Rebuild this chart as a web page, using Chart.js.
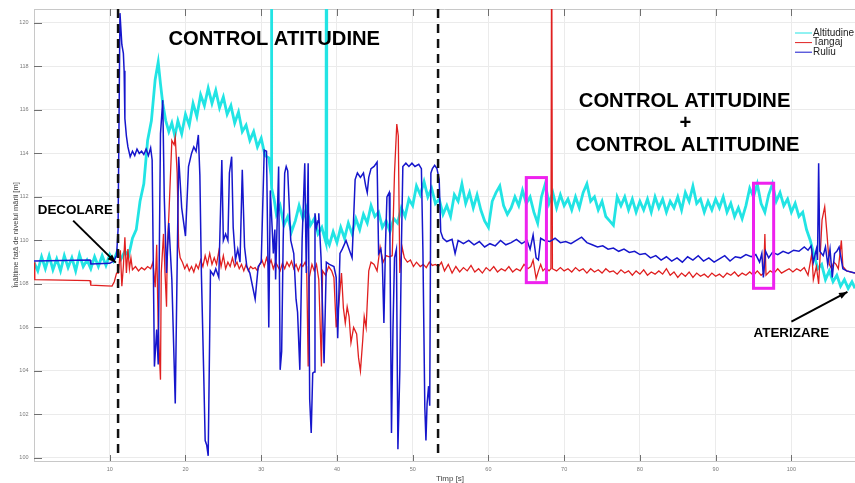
<!DOCTYPE html>
<html>
<head>
<meta charset="utf-8">
<title>Altitudine, Tangaj, Ruliu</title>
<script src="https://cdn.jsdelivr.net/npm/chart.js@4.4.1/dist/chart.umd.min.js"></script>
<style>
  html, body { margin: 0; padding: 0; background: #fff; }
</style>
</head>
<body>
<canvas id="flightChart" width="855" height="483"></canvas>
<script>
// Axis ticks
const xTicks = [10, 20, 30, 40, 50, 60, 70, 80, 90, 100];
const yTicks = [100, 102, 104, 106, 108, 110, 112, 114, 116, 118, 120];

// Altitudine (cyan)
const altTime = [
  0, 0.5, 1, 1.5, 2, 2.5, 3, 3.5, 4, 4.5,
  5, 5.5, 6, 6.5, 7, 7.5, 8, 8.5, 9, 9.5,
  10, 10.5, 11, 11.5, 12, 12.5, 13, 13.5, 14, 14.5,
  15, 15.5, 16, 16.4, 16.7, 17, 17.4, 17.8, 18.2, 18.6,
  19, 19.5, 20, 20.5, 21, 21.5, 22, 22.5, 23, 23.5,
  24, 24.5, 25, 25.5, 26, 26.5, 27, 27.5, 28, 28.5,
  29, 29.5, 30, 30.5, 31, 31.3, 31.35, 31.4, 31.7, 32,
  32.5, 33, 33.5, 34, 34.5, 35, 35.5, 36, 36.5, 37,
  37.5, 38, 38.55, 38.6, 38.65, 39, 39.5, 40, 40.5, 41,
  41.5, 42, 42.5, 43, 43.5, 44, 44.5, 45, 45.5, 46,
  46.5, 47, 47.5, 48, 48.5, 49, 49.5, 50, 50.5, 51,
  51.5, 52, 52.5, 53, 53.5, 54, 54.5, 55, 55.5, 56,
  56.5, 57, 57.5, 58, 58.5, 59, 59.5, 60, 60.5, 61,
  61.5, 62, 62.5, 63, 63.5, 64, 64.5, 65, 65.5, 66,
  66.5, 67, 67.5, 68, 68.5, 69, 69.5, 70, 70.5, 71,
  71.5, 72, 72.5, 73, 73.5, 74, 74.5, 75, 75.5, 76,
  76.5, 77, 77.5, 78, 78.5, 79, 79.5, 80, 80.5, 81,
  81.5, 82, 82.5, 83, 83.5, 84, 84.5, 85, 85.5, 86,
  86.5, 87, 87.5, 88, 88.5, 89, 89.5, 90, 90.5, 91,
  91.5, 92, 92.5, 93, 93.5, 94, 94.5, 95, 95.5, 96,
  96.5, 97, 97.5, 98, 98.5, 99, 99.5, 100, 100.5, 101,
  101.5, 102, 102.5, 103, 103.5, 104, 104.5, 105, 105.5, 106,
  106.5, 107, 107.5, 108, 108.4
];
const altValue = [
  109.0, 108.6, 109.25, 108.7, 109.3, 108.65, 109.15, 108.6, 109.3, 108.75,
  109.2, 108.6, 109.35, 108.8, 109.1, 108.7, 109.25, 108.8, 109.3, 108.85,
  109.35, 109.05, 109.5, 109.15, 109.5, 109.3, 110.1, 110.5, 111.8, 112.6,
  114.6, 115.5, 117.4, 118.2, 117.2, 116.3, 115.5, 115.0, 115.4, 114.8,
  115.5, 114.9, 115.8, 115.3, 116.3, 115.7, 116.7, 116.2, 117.0, 116.3,
  116.9, 116.1, 116.6, 115.8, 116.2, 115.4, 115.9, 115.0, 115.3, 114.6,
  115.0, 114.3, 114.7, 113.9, 113.8, 113.0, 125, 112.4, 111.9, 111.2,
  111.6, 110.7, 111.1, 110.4, 110.9, 111.6, 111.0, 111.5, 110.7, 111.0,
  110.3, 110.6, 109.9, 125, 110.1, 109.8, 110.4, 109.9, 110.6, 110.1,
  110.8, 110.3, 111.0, 110.5, 111.2, 110.8, 111.6, 111.1, 111.3, 110.6,
  110.9, 110.4, 111.0, 110.8, 111.5, 111.1, 111.9, 111.6, 112.5, 112.1,
  112.7, 112.0, 112.4, 111.7, 111.9, 111.2, 111.6, 111.1, 112.1, 111.8,
  112.6, 111.7, 112.2, 111.5, 112.1, 111.4, 110.9, 110.6, 111.8, 112.2,
  112.5, 111.6, 111.2, 111.5, 112.0, 111.6, 112.3, 111.7, 112.0, 111.3,
  110.8, 112.0, 112.6, 111.7, 112.2, 111.5, 112.1, 111.6, 111.9, 111.4,
  112.0, 111.5, 112.2, 112.6, 111.8, 112.0, 111.4, 111.8, 111.1, 110.9,
  110.7, 112.0, 111.6, 112.0, 111.4, 111.9, 111.3, 111.8, 111.4, 111.9,
  111.3, 112.0, 111.5, 111.9, 111.3, 111.8, 111.5, 112.0, 111.4, 112.2,
  111.8, 112.5, 111.7, 111.9, 111.3, 111.8, 111.4, 111.9, 111.5, 112.0,
  111.3, 111.7, 111.1, 111.5, 111.0, 111.6, 112.4, 112.0, 112.6, 111.7,
  111.3, 112.1, 112.6, 111.8, 112.2, 111.6, 111.9, 111.3, 111.7, 111.1,
  111.3, 110.5, 110.0, 109.3, 108.7, 108.9, 108.2, 108.6, 108.1, 108.4,
  107.9, 108.2, 107.8, 108.1, 107.8
];

// Tangaj (red)
const pitchTime = [
  0, 0.1, 7.4, 7.5, 10.3, 10.6, 10.9, 11.15, 11.4, 11.6,
  11.8, 12.0, 12.2, 12.4, 12.6, 12.8, 13.0, 13.4, 13.8, 14.2,
  14.6, 15.0, 15.4, 15.7, 16.0, 16.2, 16.4, 16.7, 16.8, 17.1,
  17.3, 17.5, 17.6, 17.8, 18.2, 18.5, 18.65, 18.9, 19.1, 19.3,
  19.6, 19.9, 20.2, 20.5, 20.8, 21.1, 21.4, 21.7, 22.0, 22.3,
  22.6, 22.9, 23.2, 23.5, 23.8, 24.1, 24.4, 24.7, 25.0, 25.3,
  25.6, 25.9, 26.2, 26.5, 26.8, 27.1, 27.4, 27.7, 28.0, 28.3,
  28.6, 28.9, 29.2, 29.5, 29.8, 30.1, 30.4, 30.7, 31.0, 31.3,
  31.6, 31.9, 32.2, 32.5, 32.8, 33.1, 33.4, 33.7, 34.0, 34.3,
  34.6, 34.9, 35.2, 35.5, 35.8, 36.0, 36.2, 36.35, 36.7, 37.0,
  37.3, 37.6, 37.95, 38.1, 38.5, 38.9, 39.3, 39.6, 39.9, 40.1,
  40.3, 40.6, 40.85, 41.1, 41.35, 41.6, 41.85, 42.2, 42.6, 42.85,
  43.1, 43.4, 43.6, 43.85, 44.2, 44.5, 44.9, 45.3, 45.7, 46.1,
  46.5, 46.9, 47.3, 47.6, 47.9, 48.1, 48.3, 48.6, 48.9, 49.3,
  49.7, 50.1, 50.5, 51.0, 51.4, 51.8, 52.2, 52.6, 53.0, 53.4,
  53.8, 54.2, 54.7, 55.2, 55.7, 56.2, 56.7, 57.2, 57.7, 58.2,
  58.7, 59.2, 59.7, 60.2, 60.7, 61.2, 61.7, 62.2, 62.7, 63.2,
  63.7, 64.2, 64.7, 65.2, 65.6, 65.9, 66.3, 66.6, 66.9, 67.2,
  67.6, 68.0, 68.25, 68.35, 68.45, 69.0, 69.5, 70.0, 70.5, 71.0,
  71.5, 72.0, 72.5, 73.0, 73.5, 74.0, 74.5, 75.0, 75.5, 76.0,
  76.5, 77.0, 77.5, 78.0, 78.5, 79.0, 79.5, 80.0, 80.5, 81.0,
  81.5, 82.0, 82.5, 83.0, 83.5, 84.0, 84.5, 85.0, 85.5, 86.0,
  86.5, 87.0, 87.5, 88.0, 88.5, 89.0, 89.5, 90.0, 90.5, 91.0,
  91.5, 92.0, 92.5, 93.0, 93.5, 94.0, 94.5, 95.0, 95.5, 96.0,
  96.35, 96.5, 96.65, 97.2, 97.7, 98.2, 98.7, 99.2, 99.7, 100.2,
  100.7, 101.2, 101.7, 102.2, 102.7, 102.9, 103.3, 103.6, 104.05, 104.4,
  104.7, 105.0, 105.3, 105.6, 105.9, 106.2, 106.6, 106.8, 107.3, 108.4
];
const pitchValue = [
  109.0, 108.2, 108.15, 107.95, 107.9, 108.1, 108.5, 108.5, 109.55, 107.9,
  108.8, 110.15, 108.5, 109.6, 108.7, 109.2, 108.65, 108.8, 108.6, 108.75,
  108.65, 108.8, 108.7, 109.0, 107.85, 109.8, 106.0, 103.6, 108.5, 110.3,
  108.5, 106.95, 109.7, 111.1, 114.6, 114.4, 114.75, 113.1, 109.7, 109.2,
  109.0, 108.7, 108.9, 108.6, 108.8, 108.55, 108.9, 108.7, 109.1, 108.8,
  109.3, 108.9, 109.4, 108.9, 109.2, 108.9, 109.5, 108.8, 109.3, 108.7,
  109.0, 108.8, 109.2, 108.8, 109.0, 108.7, 108.9, 108.6, 108.9, 108.6,
  108.8, 108.7, 108.75, 108.6, 108.9, 109.1, 108.8, 109.2, 108.85, 109.1,
  108.7, 109.0, 108.8, 108.6, 108.95, 108.7, 109.0, 108.8, 109.05, 108.7,
  108.9, 108.6, 108.9, 108.8, 109.0, 108.8, 104.2, 108.3, 108.9, 108.6,
  108.9, 108.2, 104.2, 108.6, 108.4, 108.8, 108.6, 108.3, 106.0, 106.5,
  107.3, 108.5, 106.9, 106.2, 106.95, 106.5, 105.3, 106.0, 105.7, 104.6,
  104.0, 105.4, 106.5, 106.0, 108.6, 109.0, 108.9, 108.6, 109.7, 109.0,
  109.3, 109.25, 109.3, 113.1, 115.35, 114.8, 108.5, 109.7, 109.2, 109.0,
  109.1, 108.8, 109.0, 108.8, 108.9, 108.75, 109.0, 108.85, 108.9, 108.8,
  109.0, 108.6, 108.9, 108.5, 108.8, 108.55, 108.75, 108.6, 108.85, 108.55,
  108.7, 108.5, 108.75, 108.6, 108.8, 108.55, 108.7, 108.6, 108.8, 108.55,
  108.7, 108.6, 108.9, 108.7, 108.8, 109.1, 108.25, 108.6, 108.9, 108.6,
  108.75, 108.6, 108.7, 125, 108.7, 108.6, 108.75, 108.6, 108.7, 108.55,
  108.75, 108.6, 108.7, 108.5, 108.7, 108.55, 108.65, 108.5, 108.7, 108.55,
  108.6, 108.45, 108.65, 108.5, 108.6, 108.4, 108.6, 108.45, 108.65, 108.4,
  108.55, 108.45, 108.6, 108.45, 108.7, 108.4, 108.55, 108.3, 108.5, 108.35,
  108.55, 108.3, 108.5, 108.35, 108.45, 108.3, 108.5, 108.35, 108.45, 108.3,
  108.5, 108.4, 108.55, 108.35, 108.5, 108.4, 108.55, 108.4, 108.6, 108.4,
  108.5, 110.3, 108.4, 108.6, 108.5, 108.7, 108.5, 108.6, 108.7, 108.55,
  108.7, 108.6, 108.75, 108.4, 109.4, 108.2, 108.8, 108.0, 110.95, 111.55,
  110.3, 108.9, 108.7, 109.0, 108.9, 108.7, 110.0, 108.8, 108.6, 108.5
];

// Ruliu (blue)
const rollTime = [
  0, 7.4, 7.5, 10.0, 10.5, 10.9, 11.1, 11.35, 11.6, 11.8,
  11.9, 12.0, 12.2, 12.4, 12.7, 13.0, 13.3, 13.6, 13.9, 14.2,
  14.5, 14.8, 15.1, 15.4, 15.6, 15.9, 16.2, 16.4, 16.7, 17.0,
  17.2, 17.5, 17.8, 18.2, 18.65, 19.1, 19.5, 20.0, 20.4, 20.8,
  21.1, 21.4, 21.7, 21.9, 22.1, 22.4, 22.6, 22.8, 23.0, 23.3,
  23.7, 24.0, 24.4, 24.8, 25.0, 25.3, 25.6, 25.8, 26.1, 26.3,
  26.6, 26.9, 27.2, 27.5, 27.8, 28.1, 28.5, 29.2, 29.6, 30.0,
  30.4, 30.7, 31.0, 31.2, 31.4, 31.6, 31.8, 31.9, 32.3, 32.5,
  32.7, 32.9, 33.1, 33.3, 33.5, 33.9, 34.3, 34.6, 34.8, 35.1,
  35.4, 35.75, 35.95, 36.2, 36.4, 36.6, 36.8, 37.0, 37.1, 37.3,
  37.5, 37.6, 37.9, 38.3, 38.6, 39.0, 39.6, 39.9, 40.1, 40.4,
  40.7, 41.2, 41.6, 42.0, 42.4, 42.7, 43.1, 43.5, 43.8, 44.0,
  44.2, 44.5, 44.9, 45.3, 45.5, 45.8, 46.0, 46.2, 46.4, 46.6,
  46.9, 47.0, 47.2, 47.4, 47.6, 47.85, 48.05, 48.3, 48.5, 48.7,
  49.1, 49.5, 49.9, 50.3, 50.8, 51.15, 51.35, 51.6, 51.75, 51.9,
  52.1, 52.25, 52.4, 52.6, 52.9, 53.2, 53.5, 53.7, 54.0, 54.5,
  55.2, 55.6, 56.0, 56.7, 57.4, 58.1, 58.8, 59.5, 60.2, 60.9,
  61.6, 62.3, 63.0, 63.7, 64.4, 65.1, 65.5, 65.9, 66.3, 66.6,
  66.9, 67.4, 68.1, 68.8, 69.5, 70.2, 70.9, 71.6, 72.3, 73.0,
  73.7, 74.4, 75.1, 75.8, 76.5, 77.2, 77.9, 78.6, 79.3, 80.0,
  80.7, 81.4, 82.1, 82.8, 83.5, 84.2, 84.9, 85.6, 86.3, 87.0,
  87.7, 88.4, 89.1, 89.8, 90.5, 91.2, 91.9, 92.6, 93.3, 94.0,
  94.7, 95.3, 95.8, 96.1, 96.3, 96.6, 97.0, 97.5, 98.2, 98.9,
  99.6, 100.3, 101.0, 101.7, 102.2, 102.6, 102.9, 103.3, 103.45, 103.6,
  103.75, 104.2, 104.5, 104.8, 105.1, 105.4, 105.7, 106.0, 106.3, 106.5,
  106.8, 107.3, 108.4
];
const rollValue = [
  109.05, 109.1, 108.92, 108.95, 109.05, 109.3, 110.5, 120.45, 119.0, 118.6,
  117.8, 115.6, 114.8, 114.3, 113.85, 114.1, 113.9, 114.2, 114.0, 114.1,
  113.95, 114.2, 113.9, 114.25, 113.7, 104.2, 105.9, 104.3, 114.9, 116.45,
  112.0, 108.5, 110.8, 108.2, 102.5, 113.85, 111.5, 110.2, 113.4, 114.0,
  114.3, 114.1, 114.85, 113.0, 108.5, 104.0, 100.8, 100.6, 100.1, 108.6,
  108.4, 108.7, 108.3, 113.7, 110.0, 110.3, 110.0, 113.1, 113.85, 110.6,
  109.1, 109.6, 109.0, 113.25, 109.7, 108.8, 108.5, 107.3, 108.8, 109.0,
  114.15, 114.1, 106.0, 112.3, 110.9, 109.4, 110.5, 108.2, 113.4, 104.05,
  104.9, 110.0, 113.1, 113.4, 113.2, 110.0, 109.4, 107.3, 106.7, 104.05,
  110.0, 113.55, 108.5, 113.55, 102.7, 101.15, 103.9, 103.95, 111.25, 110.6,
  110.9, 111.25, 109.2, 104.35, 109.0, 108.9, 108.8, 108.3, 105.5, 109.4,
  109.6, 110.0, 109.6, 109.2, 112.8, 113.1, 112.9, 113.1, 112.5, 112.2,
  112.9, 113.3, 113.4, 113.6, 109.4, 109.6, 108.9, 106.2, 109.7, 112.0,
  112.2, 109.8, 101.15, 106.0, 109.2, 109.6, 100.4, 104.0, 109.5, 113.4,
  113.55, 113.4, 113.55, 113.4, 113.5, 113.3, 109.5, 102.35, 100.8, 102.5,
  103.3, 102.4, 113.1, 113.3, 113.45, 113.3, 112.8, 110.4, 110.1, 109.95,
  110.05, 109.4, 110.0, 109.85, 110.0, 109.8, 109.95, 109.7, 109.85, 109.75,
  110.0, 109.8, 109.9, 110.05, 109.85, 110.0, 109.6, 110.25, 109.2, 109.1,
  110.1, 110.0, 109.95, 110.1, 109.9, 109.95, 109.85, 110.0, 110.15, 109.9,
  109.8, 109.7, 109.75, 109.6, 109.65, 109.5, 109.6, 109.45, 109.5, 109.35,
  109.4, 109.2, 109.3, 109.1, 109.25, 109.05, 109.2, 109.0, 109.25, 109.1,
  109.3, 109.05, 109.2, 109.0, 109.15, 109.3, 109.05, 109.25, 109.2, 109.35,
  109.25, 109.35, 109.0, 109.4, 108.3, 109.5, 109.2, 109.45, 109.35, 109.5,
  109.4, 109.55, 109.5, 109.7, 109.55, 109.75, 109.0, 109.6, 109.1, 113.55,
  109.5, 109.3, 109.7, 108.9, 109.6, 108.3, 109.4, 109.5, 109.7, 109.3,
  108.7, 108.6, 108.5
];

// Annotations (data coordinates)
const phaseLines = [11.1, 53.35];
const boxes = [
  { x0: 65.0, x1: 67.66, y0: 108.06, y1: 112.89 },
  { x0: 95.0, x1: 97.66, y0: 107.8, y1: 112.63 }
];
const labels = [
  { text: 'CONTROL ATITUDINE', x: 31.72, y: 119.26, size: 20.2 },
  { text: 'CONTROL ATITUDINE', x: 85.9, y: 116.39, size: 20.2 },
  { text: '+', x: 86.0, y: 115.4, size: 20.2 },
  { text: 'CONTROL ALTITUDINE', x: 86.3, y: 114.37, size: 20.2 },
  { text: 'DECOLARE', x: 5.45, y: 111.4, size: 13.4 },
  { text: 'ATERIZARE', x: 100.0, y: 105.75, size: 13.4 }
];
const arrows = [
  { x0: 5.17, y0: 110.91, x1: 10.8, y1: 108.98 },
  { x0: 100.0, y0: 106.27, x1: 107.4, y1: 107.63 }
];

const FONT = '"Liberation Sans", Arial, sans-serif';

function toPoints(times, values) {
  return times.map((t, i) => ({ x: t, y: values[i] }));
}

function drawArrow(ctx, x0, y0, x1, y1) {
  ctx.beginPath();
  ctx.moveTo(x0, y0);
  ctx.lineTo(x1, y1);
  ctx.stroke();
  const a = Math.atan2(y1 - y0, x1 - x0), len = 9, spread = 0.38;
  ctx.beginPath();
  ctx.moveTo(x1, y1);
  ctx.lineTo(x1 - len * Math.cos(a - spread), y1 - len * Math.sin(a - spread));
  ctx.lineTo(x1 - len * Math.cos(a + spread), y1 - len * Math.sin(a + spread));
  ctx.closePath();
  ctx.fill();
}

// Frame, inward ticks, annotations, legend and axis titles
const overlay = {
  id: 'overlay',
  beforeDatasetsDraw(chart) {
    const { ctx, chartArea: a, scales: { x, y } } = chart;
    ctx.save();
    ctx.strokeStyle = '#c8c8c8';
    ctx.lineWidth = 1;
    ctx.beginPath();
    ctx.moveTo(a.left, a.top + 0.5);
    ctx.lineTo(a.right, a.top + 0.5);
    ctx.stroke();
    ctx.strokeStyle = '#707070';
    ctx.beginPath();
    yTicks.forEach(v => {
      const py = Math.round(y.getPixelForValue(v)) + 0.5;
      ctx.moveTo(a.left, py);
      ctx.lineTo(a.left + 8, py);
    });
    xTicks.forEach(v => {
      const px = Math.round(x.getPixelForValue(v)) + 0.5;
      ctx.moveTo(px, a.bottom);
      ctx.lineTo(px, a.bottom - 6);
      ctx.moveTo(px, a.top);
      ctx.lineTo(px, a.top + 7);
    });
    ctx.stroke();
    ctx.restore();
  },
  afterDatasetsDraw(chart) {
    const { ctx, chartArea: a, scales: { x, y } } = chart;
    ctx.save();

    // phase separators
    ctx.strokeStyle = '#111';
    ctx.lineWidth = 2.5;
    ctx.setLineDash([9, 6]);
    phaseLines.forEach(v => {
      const px = x.getPixelForValue(v);
      ctx.beginPath();
      ctx.moveTo(px, a.top);
      ctx.lineTo(px, y.getPixelForValue(100));
      ctx.stroke();
    });
    ctx.setLineDash([]);

    // highlight boxes
    ctx.strokeStyle = '#ee22ee';
    ctx.lineWidth = 3;
    boxes.forEach(b => {
      const l = x.getPixelForValue(b.x0), r = x.getPixelForValue(b.x1);
      const t = y.getPixelForValue(b.y1), btm = y.getPixelForValue(b.y0);
      ctx.strokeRect(l, t, r - l, btm - t);
    });

    // text labels
    ctx.fillStyle = '#000';
    ctx.textAlign = 'center';
    ctx.textBaseline = 'middle';
    labels.forEach(l => {
      ctx.font = 'bold ' + l.size + 'px ' + FONT;
      ctx.fillText(l.text, x.getPixelForValue(l.x), y.getPixelForValue(l.y));
    });

    // arrows
    ctx.strokeStyle = '#000';
    ctx.lineWidth = 2;
    arrows.forEach(ar => {
      drawArrow(ctx, x.getPixelForValue(ar.x0), y.getPixelForValue(ar.y0),
        x.getPixelForValue(ar.x1), y.getPixelForValue(ar.y1));
    });

    // legend
    ctx.font = '10px ' + FONT;
    ctx.textAlign = 'left';
    ctx.lineWidth = 1;
    chart.data.datasets.forEach((ds, i) => {
      const ly = 33 + i * 9.6;
      ctx.strokeStyle = ds.borderColor;
      ctx.beginPath();
      ctx.moveTo(795, ly);
      ctx.lineTo(812, ly);
      ctx.stroke();
      ctx.fillStyle = '#222';
      ctx.fillText(ds.label, 813, ly);
    });

    // axis titles
    ctx.fillStyle = '#444';
    ctx.textAlign = 'center';
    ctx.font = '8px ' + FONT;
    ctx.fillText('Timp [s]', 450, 479);
    ctx.translate(16, 235);
    ctx.rotate(-Math.PI / 2);
    ctx.font = '7.5px ' + FONT;
    ctx.fillText('Înălțime față de nivelul mării [m]', 0, 0);
    ctx.restore();
  }
};

new Chart(document.getElementById('flightChart'), {
  type: 'line',
  data: {
    datasets: [
      { label: 'Altitudine', data: toPoints(altTime, altValue), borderColor: '#22e4e4', borderWidth: 2.8, order: 3 },
      { label: 'Tangaj', data: toPoints(pitchTime, pitchValue), borderColor: '#e02020', borderWidth: 1.3, order: 2 },
      { label: 'Ruliu', data: toPoints(rollTime, rollValue), borderColor: '#1616cc', borderWidth: 1.5, order: 1 }
    ]
  },
  options: {
    responsive: false,
    animation: false,
    events: [],
    layout: { padding: { top: 9, right: 0, bottom: 0, left: 0 } },
    elements: { point: { radius: 0 }, line: { tension: 0 } },
    plugins: { legend: { display: false }, tooltip: { enabled: false } },
    scales: {
      x: {
        type: 'linear',
        min: 0,
        max: 108.4,
        afterFit: s => { s.height = 22; },
        afterBuildTicks: s => { s.ticks = xTicks.map(v => ({ value: v })); },
        grid: { color: '#ebebeb', drawTicks: false },
        border: { color: '#c8c8c8' },
        ticks: { color: '#7a7a7a', font: { family: FONT, size: 5.5 }, padding: 5, maxRotation: 0, autoSkip: false }
      },
      y: {
        type: 'linear',
        min: 99.86,
        max: 120.64,
        afterFit: s => { s.width = 34; },
        afterBuildTicks: s => { s.ticks = yTicks.map(v => ({ value: v })); },
        grid: { color: '#ebebeb', drawTicks: false },
        border: { color: '#c8c8c8' },
        ticks: { color: '#7a7a7a', font: { family: FONT, size: 5.5 }, padding: 5.5, autoSkip: false }
      }
    }
  },
  plugins: [overlay]
});
</script>
</body>
</html>
